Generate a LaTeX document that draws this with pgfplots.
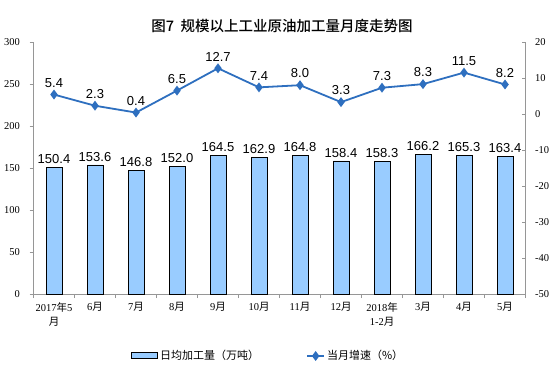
\documentclass[border=0pt]{standalone}
\usepackage{fontspec}
\setmainfont{Liberation Serif}
\setsansfont{Liberation Sans}
\newfontfamily\cjk{Noto Sans CJK SC}
\newfontfamily\cjkb{Noto Sans CJK SC Medium}
\usepackage{pgfplots}
\pgfplotsset{compat=1.18}
\definecolor{barblue}{RGB}{153,204,255}
\definecolor{lineblue}{RGB}{46,111,191}
\definecolor{axgray}{RGB}{150,150,150}
\newcommand{\yue}{{\cjk 月}}
\newcommand{\nian}{{\cjk 年}}
\begin{document}
\begin{tikzpicture}[x=1bp,y=1bp]
\useasboundingbox (0,0) rectangle (558,384);
\node[font=\cjkb\fontsize{14.5bp}{16bp}\selectfont] at (282,358) {图7\ \ 规模以上工业原油加工量月度走势图};
\begin{axis}[
  at={(33.5bp,90bp)}, anchor=south west, scale only axis,
  width=492bp, height=252bp,
  xmin=-0.5, xmax=11.5, ymin=0, ymax=300,
  ytick={0,50,...,300},
  axis y line*=left, axis x line*=bottom,
  axis line style={axgray, line width=0.6bp},
  tick align=outside,
  major tick length=4bp, minor tick length=4bp,
  tick style={axgray, line width=0.6bp},
  xtick={0,...,11},
  major x tick style={draw=none},
  minor xtick={-0.5,0.5,...,11.5},
  xticklabels={2017\nian5\\\yue, 6\yue, 7\yue, 8\yue, 9\yue, 10\yue, 11\yue, 12\yue, 2018\nian\\1-2\yue, 3\yue, 4\yue, 5\yue},
  xticklabel style={align=center, font=\fontsize{10.5bp}{14bp}\selectfont, inner sep=1bp, yshift=-3bp},
  yticklabel style={font=\fontsize{10.5bp}{12bp}\selectfont, xshift=-6bp},
  /pgf/number format/assume math mode=true,
  ybar, bar width=16bp,
  nodes near coords,
  nodes near coords style={font=\sffamily\fontsize{13bp}{15bp}\selectfont, black, /pgf/number format/.cd, fixed, fixed zerofill, precision=1, assume math mode=true},
]
\addplot[fill=barblue, draw=black, line width=0.8bp] coordinates {
(0,150.4) (1,153.6) (2,146.8) (3,152.0) (4,164.5) (5,162.9) (6,164.8) (7,158.4) (8,158.3) (9,166.2) (10,165.3) (11,163.4)};
\end{axis}
\begin{axis}[
  at={(33.5bp,90bp)}, anchor=south west, scale only axis,
  width=492bp, height=252bp,
  xmin=-0.5, xmax=11.5, ymin=-50, ymax=20,
  ytick={-50,-40,...,20},
  axis y line*=right, axis x line=none,
  axis line style={axgray, line width=0.6bp},
  tick align=inside, major tick length=4bp,
  tick style={axgray, line width=0.6bp},
  yticklabel style={font=\fontsize{10.5bp}{12bp}\selectfont, xshift=6bp},
  /pgf/number format/assume math mode=true,
  nodes near coords,
  nodes near coords style={font=\sffamily\fontsize{13bp}{15bp}\selectfont, black, yshift=3bp, /pgf/number format/.cd, fixed, fixed zerofill, precision=1, assume math mode=true},
  legend style={at={(0.477,-0.246)}, anchor=center, draw=none, fill=none, legend columns=2,
    font=\cjk\fontsize{11bp}{13bp}\selectfont, /tikz/every even column/.append style={column sep=45bp}},
]
\addlegendimage{legend image code/.code={\draw[fill=barblue, draw=black, line width=1bp] (0bp,-3bp) rectangle (26bp,3bp);}}
\addlegendentry{日均加工量（万吨）}
\addplot[lineblue, line width=1.8bp, mark=diamond*, mark size=3.5bp, mark options={fill=lineblue}] coordinates {
(0,5.4) (1,2.3) (2,0.4) (3,6.5) (4,12.7) (5,7.4) (6,8.0) (7,3.3) (8,7.3) (9,8.3) (10,11.5) (11,8.2)};
\addlegendentry{当月增速（\%）}
\end{axis}
\end{tikzpicture}
\end{document}
